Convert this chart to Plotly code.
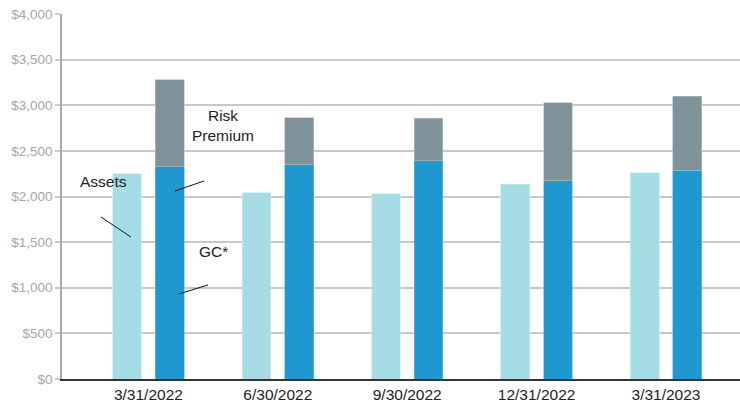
import plotly.graph_objects as go

# Quarter-end dates and balances ($ millions)
quarters = ["3/31/2022", "6/30/2022", "9/30/2022", "12/31/2022", "3/31/2023"]
assets = [2250, 2040, 2030, 2135, 2260]
gc = [2325, 2350, 2390, 2175, 2285]
risk_premium = [955, 515, 470, 850, 815]

y_ticks = [0, 500, 1000, 1500, 2000, 2500, 3000, 3500, 4000]
y_tick_labels = ["${:,}".format(v) for v in y_ticks]

idx = list(range(len(quarters)))
off = 0.165
bw = 0.222

fig = go.Figure()
fig.add_trace(go.Bar(x=[i - off for i in idx], y=assets, width=bw, name="Assets",
                     marker=dict(color="#a6dce4", line=dict(color="#c9ecf0", width=0.6))))
fig.add_trace(go.Bar(x=[i + off for i in idx], y=gc, width=bw, name="GC*",
                     marker=dict(color="#1e98cf", line=dict(color="#6fbde0", width=0.6))))
fig.add_trace(go.Bar(x=[i + off for i in idx], y=risk_premium, width=bw, name="Risk Premium",
                     marker=dict(color="#80939a", line=dict(color="#b4c0c4", width=0.6))))

font = "Liberation Sans, Arial, sans-serif"

annotations = [
    dict(x=-0.345, y=2160, text="Assets"),
    dict(x=0.576, y=2775, text="Risk<br>Premium"),
    dict(x=0.50, y=1395, text="GC*"),
]
fig.update_layout(annotations=[
    dict(a, xref="x", yref="y", showarrow=False,
         font=dict(family=font, size=15.5, color="#222222")) for a in annotations
])

# Leader lines from each label to its bar
leaders = [
    (-0.367, 1775, -0.135, 1556),
    (0.205, 2060, 0.429, 2170),
    (0.236, 932, 0.46, 1030),
]
for x0, y0, x1, y1 in leaders:
    fig.add_shape(type="line", xref="x", yref="y", x0=x0, y0=y0, x1=x1, y1=y1,
                  line=dict(color="#111111", width=1))

fig.update_layout(
    width=740, height=402,
    margin=dict(l=62, r=0, t=14, b=23),
    paper_bgcolor="white", plot_bgcolor="white",
    barmode="stack",
    showlegend=False,
    font=dict(family=font),
    xaxis=dict(
        range=[-0.668, 4.572],
        tickmode="array", tickvals=idx, ticktext=quarters,
        tickfont=dict(family=font, size=15.5, color="#222222"),
        showgrid=False, zeroline=False,
        showline=True, linecolor="#333333", linewidth=2,
        ticks="",
    ),
    yaxis=dict(
        range=[0, 4000],
        tickmode="array", tickvals=y_ticks, ticktext=y_tick_labels,
        tickfont=dict(family=font, size=13.5, color="#a6a6a6"),
        showgrid=True, gridcolor="#c8c8c8", gridwidth=1.5,
        zeroline=False,
        showline=True, linecolor="#a8a8a8", linewidth=1.5,
        ticks="outside", ticklen=5, tickcolor="#c8c8c8", tickwidth=1.5,
    ),
)

fig.write_html("out.html")
